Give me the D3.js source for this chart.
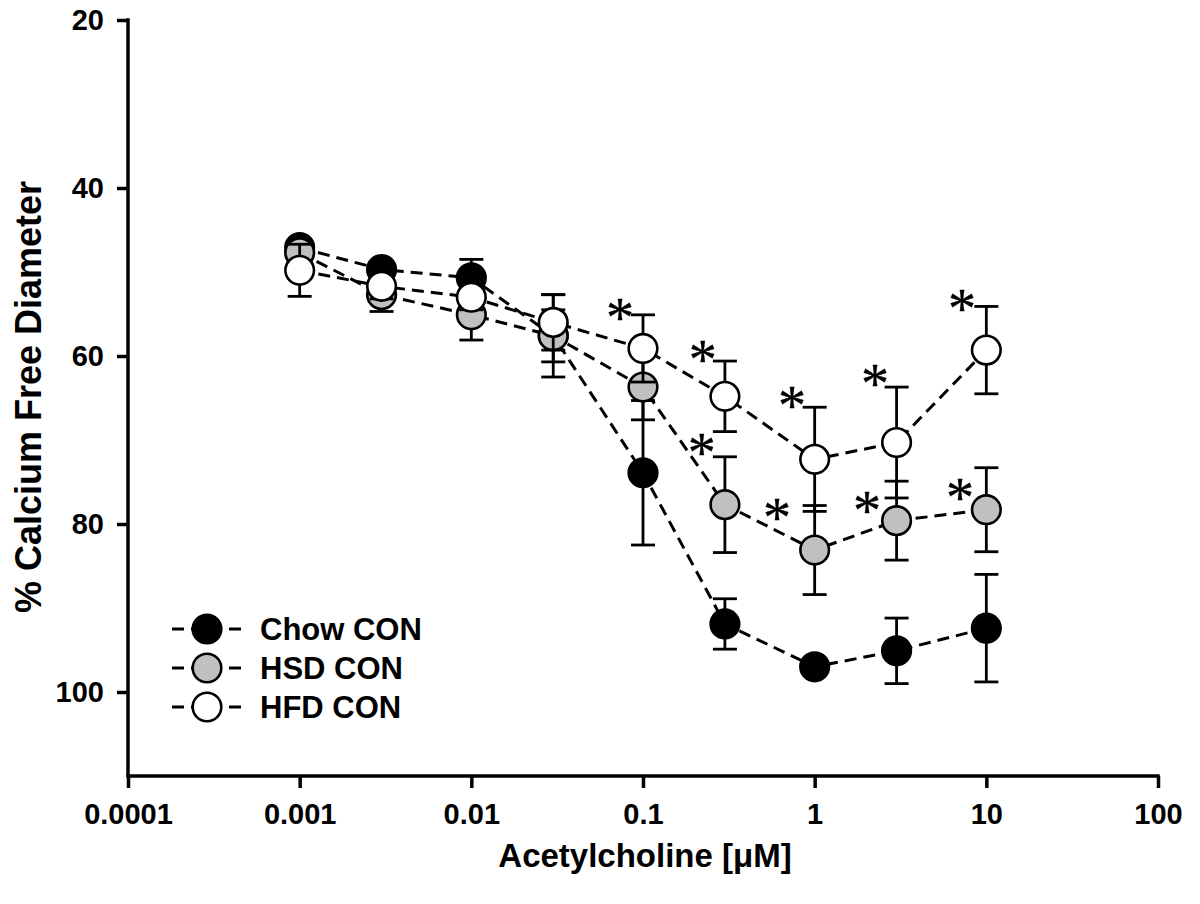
<!DOCTYPE html>
<html>
<head>
<meta charset="utf-8">
<script src="https://cdn.jsdelivr.net/npm/d3@7"></script>
<style>
  html, body { margin: 0; padding: 0; background: #fff; }
  svg { display: block; }
  text { font-family: "Liberation Sans", Arial, sans-serif; font-weight: bold; fill: #000; }
</style>
</head>
<body>
<svg id="chart" width="1200" height="904"></svg>
<script>
// ---------- data ----------
const doses = [0.001, 0.003, 0.01, 0.03, 0.1, 0.3, 1, 3, 10];
const seriesNames = ["Chow CON", "HSD CON", "HFD CON"];
const seriesFills = ["#000000", "#c0c0c0", "#ffffff"];
const chowMean = [47.1, 49.7, 50.7, 57.6, 73.9, 91.9, 97.0, 95.1, 92.4];
const chowErr  = [0.8, 0.8, 2.2, 4.9, 8.6, 3.0, 1.0, 3.9, 6.4];
const hsdMean  = [47.7, 52.7, 55.1, 57.6, 63.7, 77.7, 83.1, 79.6, 78.3];
const hsdErr   = [1.0, 2.0, 3.0, 3.1, 3.9, 5.7, 5.3, 4.7, 5.0];
const hfdMean  = [49.8, 51.7, 53.0, 56.0, 59.1, 64.8, 72.3, 70.3, 59.3];
const hfdErr   = [3.1, 1.5, 1.5, 3.3, 4.0, 4.2, 6.2, 6.6, 5.2];
const xTicks = [0.0001, 0.001, 0.01, 0.1, 1, 10, 100];
const xTickLabels = ["0.0001", "0.001", "0.01", "0.1", "1", "10", "100"];
const yTicks = [20, 40, 60, 80, 100];
// significance asterisks (position in data units)
const starDose  = [0.0735, 0.223, 0.738, 2.25, 7.21, 0.220, 0.603, 2.02, 7.03];
const starValue = [54.5, 59.5, 65.0, 62.4, 53.5, 70.6, 78.3, 77.5, 76.0];
const xTitle = "Acetylcholine [\u03bcM]";
const yTitle = "% Calcium Free Diameter";

// ---------- layout ----------
const svg = d3.select("#chart");
const x = d3.scaleLog().domain([0.0001, 100]).range([128, 1158]);
const y = d3.scaleLinear().domain([20, 110]).range([20, 776]);

const series = [
  { name: seriesNames[0], fill: seriesFills[0], mean: chowMean, err: chowErr },
  { name: seriesNames[1], fill: seriesFills[1], mean: hsdMean, err: hsdErr },
  { name: seriesNames[2], fill: seriesFills[2], mean: hfdMean, err: hfdErr }
];

// axes
const xAxis = d3.axisBottom(x).tickValues(xTicks)
  .tickFormat((d, i) => xTickLabels[i]).tickSizeOuter(0).tickSize(12).tickPadding(15);
const yAxis = d3.axisLeft(y).tickValues(yTicks).tickSizeOuter(0).tickSize(11).tickPadding(13);

const gx = svg.append("g").attr("transform", "translate(0,776)").call(xAxis);
const gy = svg.append("g").attr("transform", "translate(128,0)").call(yAxis);
[gx, gy].forEach(g => {
  g.select(".domain").attr("stroke", "#000").attr("stroke-width", 3.5);
  g.selectAll(".tick line").attr("stroke", "#000").attr("stroke-width", 3.5);
  g.selectAll(".tick text").style("font-size", "29px").style("font-weight", "bold")
    .style("font-family", "'Liberation Sans', Arial, sans-serif").attr("fill", "#000");
});
gx.select(".domain").attr("d", `M${x.range()[0] - 1.75},0H${x.range()[1] + 1.75}`);
gy.select(".domain").attr("d", `M0,${y.range()[0] - 1.75}V${y.range()[1]}`);

// titles
svg.append("text").attr("x", 645).attr("y", 867).attr("text-anchor", "middle")
  .style("font-size", "33px").text(xTitle);
svg.append("text").attr("transform", "translate(41,397) rotate(-90)").attr("text-anchor", "middle")
  .style("font-size", "36px").text(yTitle);

const R = 14.3;
const line = d3.line().x(d => x(d.dose)).y(d => y(d.v));

// dashed lines first
series.forEach(s => {
  const pts = doses.map((d, i) => ({ dose: d, v: s.mean[i] }));
  svg.append("path").attr("d", line(pts)).attr("fill", "none")
    .attr("stroke", "#000").attr("stroke-width", 3).attr("stroke-dasharray", "12,7");
});

// error bars and circles per series
series.forEach(s => {
  const g = svg.append("g");
  doses.forEach((d, i) => {
    const cx = x(d), top = y(s.mean[i] - s.err[i]), bot = y(s.mean[i] + s.err[i]);
    g.append("line").attr("x1", cx).attr("x2", cx).attr("y1", top).attr("y2", bot)
      .attr("stroke", "#000").attr("stroke-width", 2.8);
    [top, bot].forEach(yy => g.append("line").attr("x1", cx - 12).attr("x2", cx + 12)
      .attr("y1", yy).attr("y2", yy).attr("stroke", "#000").attr("stroke-width", 2.8));
  });
  g.selectAll("circle").data(doses).enter().append("circle")
    .attr("cx", d => x(d)).attr("cy", (d, i) => y(s.mean[i])).attr("r", R)
    .attr("fill", s.fill).attr("stroke", "#000").attr("stroke-width", 2.6);
});

// asterisks
starDose.forEach((d, i) => {
  svg.append("text").attr("x", x(d)).attr("y", y(starValue[i]) + 27).attr("text-anchor", "middle")
    .style("font-family", "'Liberation Serif', 'Times New Roman', serif").style("font-weight", "normal")
    .attr("stroke", "#000").attr("stroke-width", 0.4)
    .style("font-size", "56px").text("*");
});

// legend
const legY = [629, 668, 707];
series.forEach((s, i) => {
  const g = svg.append("g").attr("transform", `translate(0,${legY[i]})`);
  g.append("line").attr("x1", 172).attr("x2", 244).attr("y1", 0).attr("y2", 0)
    .attr("stroke", "#000").attr("stroke-width", 3).attr("stroke-dasharray", "12,7");
  g.append("circle").attr("cx", 207).attr("cy", 0).attr("r", R)
    .attr("fill", s.fill).attr("stroke", "#000").attr("stroke-width", 2.6);
  g.append("text").attr("x", 260).attr("y", 0).attr("dy", "0.36em")
    .style("font-size", "31px").text(s.name);
});
</script>
</body>
</html>
